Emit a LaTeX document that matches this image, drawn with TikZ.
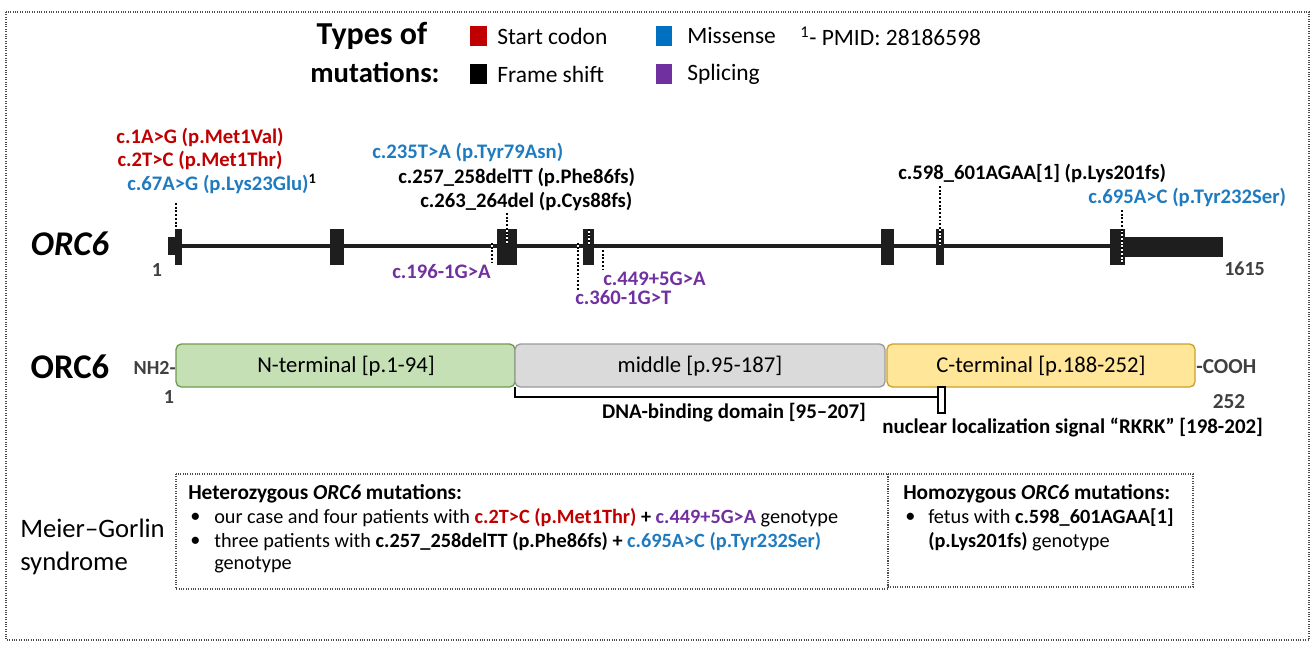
\documentclass[tikz,border=0pt]{standalone}
\usepackage{fontspec}
\setmainfont{Carlito}
\definecolor{cred}{HTML}{C00000}
\definecolor{cblue}{HTML}{1F7BC0}
\definecolor{sblue}{HTML}{0070C0}
\definecolor{cpurp}{HTML}{7030A0}
\definecolor{gfill}{HTML}{C5E0B4}
\definecolor{gdraw}{HTML}{6F9A4F}
\definecolor{mfill}{HTML}{DADADA}
\definecolor{mdraw}{HTML}{9A9A9A}
\definecolor{yfill}{HTML}{FFE699}
\definecolor{ydraw}{HTML}{C9A227}
\definecolor{exonc}{HTML}{1E1E1E}
\definecolor{gtext}{HTML}{404040}
\newcommand{\fsz}[1]{\fontsize{#1}{#1}\selectfont}
\begin{document}
\begin{tikzpicture}[x=0.75pt,y=-0.75pt,
  lbl/.style={inner sep=0pt,anchor=west,font=\fsz{15.5pt}\bfseries},
  leg/.style={inner sep=0pt,anchor=west,font=\fsz{17.6pt}},
  exon/.style={fill=exonc},
  mut/.style={line width=1.6pt,dash pattern=on 1.4pt off 1.4pt,
    preaction={draw=white,solid,line width=1.6pt}},
  dom/.style={rounded corners=4pt,line width=1pt},
  domtxt/.style={inner sep=0pt,font=\fsz{17pt}},
  small/.style={inner sep=0pt,font=\fsz{15pt}\bfseries,text=gtext},
  boxtxt/.style={inner sep=0pt,anchor=west,font=\fsz{15.2pt}},
  boxhead/.style={inner sep=0pt,anchor=west,font=\fsz{16pt}\bfseries},
  frame/.style={densely dotted,line width=0.8pt,draw=black!70}]
\useasboundingbox (0,0) rectangle (1314,647);
% outer frame
\draw[frame] (6,12) rectangle (1309,640);
% legend
\node[inner sep=0pt,font=\fsz{24pt}\bfseries] (t1) at (372,36) {Types of};
\node[inner sep=0pt,font=\fsz{21.5pt}\bfseries] (t2) at (375,73) {mutations:};
\fill[cred] (470,26) rectangle (487,46);
\fill[black] (470,64) rectangle (487,84);
\fill[sblue] (656,26) rectangle (672,46);
\fill[cpurp] (656,64) rectangle (672,84);
\node[leg] (l1) at (497,36) {Start codon};
\node[leg] (l2) at (497,74) {Frame shift};
\node[leg] (l3) at (687,36) {Missense};
\node[leg] (l4) at (687,74) {Splicing};
\node[leg] (l5) at (800,36) {\textsuperscript{1}- PMID: 28186598};
% gene
\node[inner sep=0pt,font=\fsz{26pt}\bfseries\itshape] (gene) at (70,244) {ORC6};
\draw[line width=2.5pt,exonc] (182,246) -- (1110,246);
\fill[exon] (168,237) rectangle (176,255);
\fill[exon] (175,229) rectangle (182,265);
\fill[exon] (330,229) rectangle (344,265);
\fill[exon] (497,229) rectangle (517,265);
\fill[exon] (583,229) rectangle (594,265);
\fill[exon] (881,229) rectangle (894,265);
\fill[exon] (936,229) rectangle (944,265);
\fill[exon] (1110,229) rectangle (1125,265);
\fill[exon] (1125,237) rectangle (1223,257);
\node[small] (n1) at (157,270) {1};
\node[small,anchor=west] (n1615) at (1224,269) {1615};
% mutation labels
\node[lbl,anchor=center,text=cred] (m1) at (200,137) {c.1A>G (p.Met1Val)};
\node[lbl,anchor=center,text=cred] (m2) at (200,160) {c.2T>C (p.Met1Thr)};
\node[lbl,text=cblue] (m3) at (127,184) {c.67A>G (p.Lys23Glu)\textsuperscript{\textcolor{black}{1}}};
\node[lbl,text=cblue] (m4) at (372,152) {c.235T>A (p.Tyr79Asn)};
\node[lbl] (m5) at (398,177) {c.257\_258delTT (p.Phe86fs)};
\node[lbl] (m6) at (420,201) {c.263\_264del (p.Cys88fs)};
\node[lbl] (m7) at (898,173) {c.598\_601AGAA[1] (p.Lys201fs)};
\node[lbl,text=cblue] (m8) at (1088,197) {c.695A>C (p.Tyr232Ser)};
\node[lbl,text=cpurp] (m9) at (392,272) {c.196-1G>A};
\node[lbl,text=cpurp] (m10) at (603,279) {c.449+5G>A};
\node[lbl,text=cpurp] (m11) at (575,298) {c.360-1G>T};
% dotted markers
\coordinate (d1a) at (176,203); \coordinate (d1b) at (176,229);
\coordinate (d2a) at (507,213); \coordinate (d2b) at (507,243);
\coordinate (d3a) at (492,243); \coordinate (d3b) at (492,263);
\coordinate (d4a) at (578,243); \coordinate (d4b) at (578,290);
\coordinate (d5a) at (603,250); \coordinate (d5b) at (603,270);
\coordinate (d6a) at (589,229); \coordinate (d6b) at (589,245);
\coordinate (d7a) at (940,186); \coordinate (d7b) at (940,245);
\coordinate (d8a) at (1122,210); \coordinate (d8b) at (1122,263);
\draw[mut] (d1a) -- (d1b);
\draw[mut] (d2a) -- (d2b);
\draw[mut] (d3a) -- (d3b);
\draw[mut] (d4a) -- (d4b);
\draw[mut] (d5a) -- (d5b);
\draw[mut] (d6a) -- (d6b);
\draw[mut] (d7a) -- (d7b);
\draw[mut] (d8a) -- (d8b);
% protein
\node[inner sep=0pt,font=\fsz{26pt}\bfseries] (prot) at (70,367) {ORC6};
\draw[dom,fill=gfill,draw=gdraw] (176,344) rectangle (515,387);
\draw[dom,fill=mfill,draw=mdraw] (515,344) rectangle (885,387);
\draw[dom,fill=yfill,draw=ydraw] (887,344) rectangle (1195,387);
\node[domtxt] (dn) at (346,366) {N-terminal [p.1-94]};
\node[domtxt] (dm) at (700,366) {middle [p.95-187]};
\node[domtxt] (dc) at (1041,366) {C-terminal [p.188-252]};
\node[small,anchor=east] (nh2) at (176,368) {NH2-};
\node[small] (p1) at (169,397) {1};
\node[small,anchor=west,font=\fsz{16pt}\bfseries] (cooh) at (1196,367) {-COOH};
\node[small,font=\fsz{16pt}\bfseries] (p252) at (1229,402) {252};
\coordinate (b1) at (515,387); \coordinate (b2) at (515,397); \coordinate (b3) at (942,397);
\draw[line width=1.3pt] (b1) -- (b2) -- (b3);
\draw[line width=1pt,fill=white] (938,387) rectangle (945,413);
\node[inner sep=0pt,font=\fsz{15.7pt}\bfseries] (dna) at (734,413) {DNA-binding domain [95–207]};
\node[inner sep=0pt,anchor=west,font=\fsz{15.7pt}\bfseries] (nls) at (882,428) {nuclear localization signal “RKRK” [198-202]};
% bottom
\node[inner sep=0pt,anchor=west,font=\fsz{20pt}] (mg1) at (20,528) {Meier–Gorlin};
\node[inner sep=0pt,anchor=west,font=\fsz{20pt}] (mg2) at (20,563) {syndrome};
\draw[frame] (176,474) rectangle (888,589);
\draw[frame] (888,474) rectangle (1193,587);
\node[boxhead] (h1) at (188,494) {Heterozygous \textit{ORC6} mutations:};
\node[boxtxt] (b1a) at (190,518) {•};
\node[boxtxt] (b1t) at (214,518) {our case and four patients with \textbf{\textcolor{cred}{c.2T>C (p.Met1Thr)}} \textbf{+} \textbf{\textcolor{cpurp}{c.449+5G>A}} genotype};
\node[boxtxt] (b2a) at (190,542) {•};
\node[boxtxt] (b2t) at (214,542) {three patients with \textbf{c.257\_258delTT (p.Phe86fs) +} \textbf{\textcolor{cblue}{c.695A>C (p.Tyr232Ser)}}};
\node[boxtxt] (b3t) at (214,565) {genotype};
\node[boxhead] (h2) at (903,494) {Homozygous \textit{ORC6} mutations:};
\node[boxtxt] (b4a) at (905,518) {•};
\node[boxtxt] (b4t) at (928,518) {fetus with \textbf{c.598\_601AGAA[1]}};
\node[boxtxt] (b5t) at (928,542) {\textbf{(p.Lys201fs)} genotype};
\end{tikzpicture}
\end{document}
